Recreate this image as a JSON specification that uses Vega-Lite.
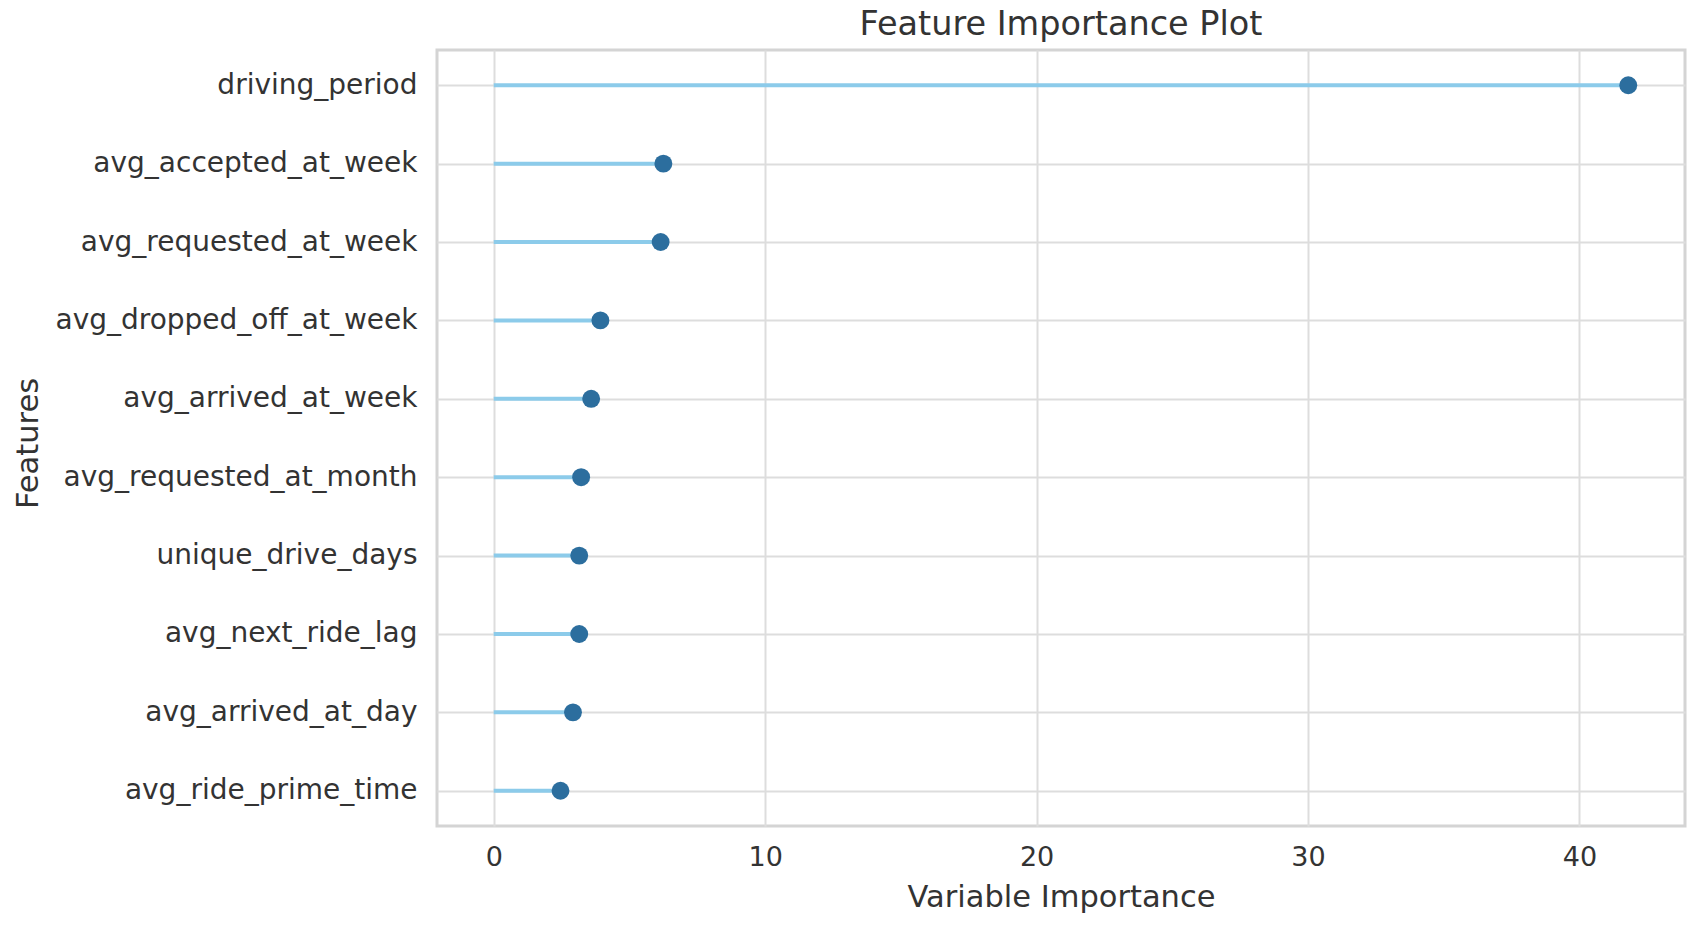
{
  "$schema": "https://vega.github.io/schema/vega-lite/v6.json",
  "autosize": {"type": "none"},
  "padding": {"left": 437, "top": 50, "right": 17, "bottom": 100},
  "width": 1248,
  "height": 776,
  "background": "white",
  "title": {
    "text": "Feature Importance Plot",
    "font": "DejaVu Sans",
    "fontSize": 33.5,
    "fontWeight": "normal",
    "color": "#333333",
    "anchor": "middle",
    "offset": 8
  },
  "data": {
    "values": [
      {"feature": "driving_period", "importance": 41.8},
      {"feature": "avg_accepted_at_week", "importance": 6.25},
      {"feature": "avg_requested_at_week", "importance": 6.15},
      {"feature": "avg_dropped_off_at_week", "importance": 3.93},
      {"feature": "avg_arrived_at_week", "importance": 3.59},
      {"feature": "avg_requested_at_month", "importance": 3.22},
      {"feature": "unique_drive_days", "importance": 3.15},
      {"feature": "avg_next_ride_lag", "importance": 3.15},
      {"feature": "avg_arrived_at_day", "importance": 2.92},
      {"feature": "avg_ride_prime_time", "importance": 2.46}
    ]
  },
  "encoding": {
    "y": {
      "field": "feature",
      "type": "nominal",
      "sort": null,
      "scale": {"type": "point", "padding": 0.45},
      "axis": {
        "title": "Features",
        "titleFontSize": 30.5,
        "titleX": -409,
        "titleY": 393,
        "titleBaseline": "middle",
        "titleAngle": 270,
        "labelFontSize": 28,
        "labelPadding": 20,
        "labelLimit": 1000,
        "ticks": false,
        "domain": false,
        "grid": true
      }
    },
    "x": {
      "field": "importance",
      "type": "quantitative",
      "scale": {"domain": [-2.09, 43.89], "nice": false, "zero": false},
      "axis": {
        "title": "Variable Importance",
        "titleFontSize": 30.5,
        "titlePadding": 12,
        "labelFontSize": 27,
        "labelPadding": 18,
        "values": [0, 10, 20, 30, 40],
        "ticks": false,
        "domain": false,
        "grid": true
      }
    }
  },
  "layer": [
    {
      "mark": {"type": "rule", "color": "#8ccbea", "strokeWidth": 4},
      "encoding": {
        "x2": {"datum": 0}
      }
    },
    {
      "mark": {"type": "circle", "color": "#2c6e9e", "opacity": 1, "size": 320},
      "encoding": {}
    }
  ],
  "config": {
    "font": "DejaVu Sans",
    "axis": {
      "labelFont": "DejaVu Sans",
      "titleFont": "DejaVu Sans",
      "labelColor": "#333333",
      "titleColor": "#333333",
      "titleFontWeight": "normal",
      "gridColor": "#dddddd",
      "gridWidth": 2
    },
    "view": {"stroke": "#d4d4d4", "strokeWidth": 3}
  }
}
